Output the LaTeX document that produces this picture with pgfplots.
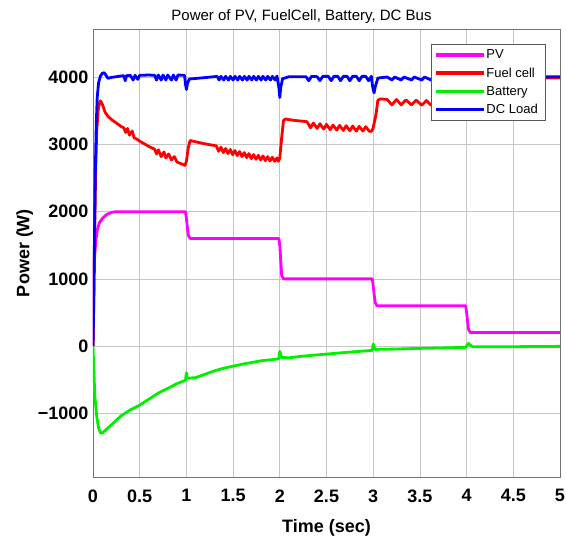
\documentclass[border=0pt]{standalone}
\usepackage{pgfplots}
\pgfplotsset{compat=1.18}
\usepackage{fontspec}
\setmainfont{Liberation Sans}
\definecolor{pvc}{RGB}{255,0,255}
\definecolor{fcc}{RGB}{255,0,0}
\definecolor{btc}{RGB}{0,240,0}
\definecolor{dcc}{RGB}{0,0,255}
\begin{document}
\begin{tikzpicture}
\begin{axis}[
  scale only axis, width=467pt, height=448pt,
  xmin=0, xmax=5, ymin=-1950, ymax=4720,
  xtick={0,0.5,1,1.5,2,2.5,3,3.5,4,4.5,5},
  xticklabels={0,0.5,1,1.5,2,2.5,3,3.5,4,4.5,5},
  ytick={-1000,0,1000,2000,3000,4000},
  yticklabels={−1000,0,1000,2000,3000,4000},
  grid=major, grid style={gray!45, line width=0.7pt},
  axis line style={black!55, line width=0.9pt},
  tick style={draw=none},
  ticklabel style={font=\fontsize{18}{20}\selectfont\bfseries},
  xticklabel style={yshift=-9pt},
  yticklabel style={xshift=-1pt},
  xlabel={Time (sec)}, ylabel={Power (W)},
  label style={font=\fontsize{18}{20}\selectfont\bfseries},
  xlabel style={yshift=-10pt},
  ylabel style={yshift=-2pt},
  title={Power of PV, FuelCell, Battery, DC Bus},
  title style={font=\fontsize{15}{17}\selectfont, at={(0.5,1)}, anchor=south, xshift=-25pt, yshift=-4pt},
  legend style={at={(1,1)}, anchor=north east, xshift=-15pt, yshift=-15pt,
    draw=black!65, font=\fontsize{13}{15}\selectfont,
    inner xsep=5pt, inner ysep=3.5pt, row sep=3.5pt, cells={anchor=west}},
  legend image code/.code={\fill[#1, draw=none] (0pt,-1.7pt) rectangle (48pt,1.7pt);},
  every axis plot/.append style={line width=2.8pt, line join=round},
]
\addplot[pvc, no markers] coordinates {
(0,0) (0.005,1000) (0.012,1200) (0.02,1380) (0.03,1560) (0.046,1730) (0.07,1840)
(0.107,1910) (0.15,1960) (0.2,1990) (0.24,2000) (0.99,2000) (1.0,1900) (1.02,1650)
(1.04,1600) (1.99,1600) (2.0,1500) (2.02,1050) (2.04,1000) (2.99,1000) (3.0,900)
(3.02,650) (3.04,600) (3.99,600) (4.0,500) (4.02,250) (4.04,200) (5,200)
};
\addplot[fcc, no markers] coordinates {
(0,0) (0.01,900) (0.02,1900) (0.03,2700) (0.04,3200) (0.055,3500) (0.07,3630)
(0.08,3650) (0.1,3600) (0.13,3480) (0.16,3420) (0.2,3370) (0.25,3320) (0.3,3270)
(0.33,3250) (0.35,3180) (0.37,3240) (0.39,3140) (0.42,3200) (0.44,3100) (0.47,3080)
(0.5,3050) (0.55,3010) (0.6,2970) (0.66,2930) (0.68,2860) (0.7,2920) (0.73,2820)
(0.76,2890) (0.78,2800) (0.81,2860) (0.84,2770) (0.87,2820) (0.9,2740) (0.95,2710)
(0.985,2690) (1.0,2750) (1.02,2950) (1.04,3060) (1.1,3040) (1.2,3010) (1.32,2980)
(1.345,2900) (1.37,2960) (1.395,2880) (1.42,2940) (1.445,2865) (1.47,2925) (1.495,2850)
(1.52,2910) (1.545,2835) (1.57,2895) (1.595,2820) (1.62,2880) (1.645,2805) (1.67,2865)
(1.695,2790) (1.72,2850) (1.745,2780) (1.77,2840) (1.795,2770) (1.82,2830) (1.845,2760)
(1.87,2820) (1.895,2755) (1.92,2810) (1.945,2750) (1.97,2800) (1.985,2750) (2.0,2800)
(2.02,3100) (2.04,3360) (2.06,3380) (2.15,3360) (2.29,3340) (2.33,3250) (2.36,3320)
(2.40,3240) (2.43,3310) (2.47,3230) (2.5,3300) (2.54,3220) (2.57,3290) (2.61,3215)
(2.64,3285) (2.68,3210) (2.71,3280) (2.75,3205) (2.78,3275) (2.82,3200) (2.85,3270)
(2.89,3200) (2.92,3265) (2.96,3195) (2.985,3200) (3.0,3250) (3.03,3450) (3.05,3660)
(3.08,3680) (3.15,3670) (3.2,3590) (3.25,3670) (3.3,3590) (3.35,3665) (3.41,3590)
(3.46,3660) (3.52,3585) (3.57,3655) (3.62,3585) (3.68,3650) (3.73,3585) (3.79,3650)
(3.84,3585) (3.9,3645) (3.95,3585) (3.99,3620) (4.02,3850) (4.05,3980) (4.2,3990) (5,3990)
};
\addplot[btc, no markers] coordinates {
(0,0) (0.01,-400) (0.02,-750) (0.04,-1050) (0.06,-1220) (0.08,-1290) (0.095,-1300)
(0.12,-1270) (0.2,-1170) (0.3,-1040) (0.4,-950) (0.5,-880) (0.6,-790) (0.7,-700)
(0.8,-630) (0.9,-560) (0.99,-510) (1.0,-400) (1.01,-480) (1.1,-470) (1.2,-420)
(1.3,-370) (1.4,-330) (1.5,-300) (1.6,-270) (1.7,-245) (1.8,-220) (1.9,-205)
(1.99,-190) (2.0,-80) (2.02,-170) (2.1,-175) (2.25,-150) (2.5,-120) (2.75,-90)
(2.99,-65) (3.0,30) (3.02,-50) (3.25,-45) (3.5,-35) (3.75,-28) (3.99,-20) (4.02,40)
(4.06,-10) (4.5,-10) (5,-5)
};
\addplot[dcc, no markers] coordinates {
(0,0) (0.008,600) (0.015,1500) (0.025,2600) (0.035,3300) (0.045,3700) (0.06,3920)
(0.08,4020) (0.1,4060) (0.12,4070) (0.135,4040) (0.16,3985) (0.2,4000) (0.3,4020)
(0.33,4025) (0.345,3950) (0.36,4025) (0.4,4030) (0.43,3960) (0.45,4030) (0.48,3970)
(0.5,4030) (0.6,4035) (0.66,4030) (0.68,3960) (0.7,4035) (0.73,3960) (0.75,4035)
(0.78,3960) (0.8,4035) (0.84,3960) (0.86,4035) (0.89,3960) (0.91,4035) (0.98,4030)
(0.99,3900) (1.0,3820) (1.01,3900) (1.03,3975) (1.15,3990) (1.3,4010) (1.33,4015)
(1.35,3960) (1.37,4015) (1.4,3960) (1.42,4015) (1.45,3960) (1.47,4015) (1.5,3960)
(1.52,4015) (1.55,3960) (1.57,4015) (1.6,3960) (1.62,4015) (1.65,3960) (1.67,4015)
(1.7,3960) (1.72,4015) (1.75,3960) (1.77,4015) (1.8,3960) (1.82,4015) (1.85,3960)
(1.87,4015) (1.9,3960) (1.92,4015) (1.95,3960) (1.97,4020) (1.99,3850) (2.0,3700)
(2.01,3850) (2.03,3980) (2.1,4010) (2.28,4010) (2.31,3950) (2.34,4015) (2.4,4010)
(2.43,3950) (2.46,4015) (2.52,4015) (2.55,3950) (2.58,4015) (2.62,4015) (2.65,3950)
(2.68,4015) (2.72,4015) (2.75,3950) (2.78,4015) (2.82,4015) (2.85,3950) (2.88,4015)
(2.92,4015) (2.95,3950) (2.98,4015) (2.995,3850) (3.01,3770) (3.02,3850) (3.05,3990)
(3.15,4005) (3.2,3960) (3.23,4005) (3.3,3960) (3.33,4005) (3.41,3960) (3.44,4005)
(3.52,3960) (3.55,4005) (3.62,3960) (3.65,4005) (3.99,4000) (4.0,3850) (4.02,3990) (5,4010)
};
\legend{PV, Fuel cell, Battery, DC Load}
\end{axis}
\pgfresetboundingbox
\path ([shift={(-93pt,-61pt)}]current axis.south west) rectangle ([shift={(6pt,29pt)}]current axis.north east);
\end{tikzpicture}
\end{document}
